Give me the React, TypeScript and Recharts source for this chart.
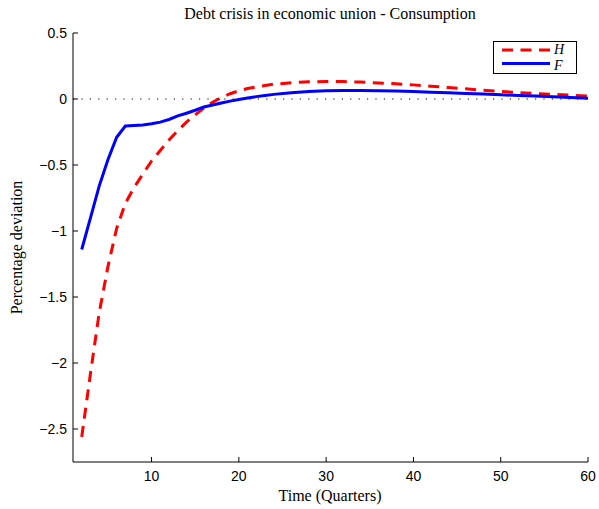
import { LineChart, Line, XAxis, YAxis, ReferenceLine, Legend } from "recharts"

// quarters after the shock (every quarter early on, every second one later)
const quarters = [
  2, 3, 4, 5, 6, 7, 8, 9, 10, 11, 12, 13, 14, 15, 16, 17, 18, 19, 20, 21, 22, 23, 24,
  26, 28, 30, 32, 34, 36, 38, 40, 42, 44, 46, 48, 50, 52, 54, 56, 58, 60,
]

// home (H) consumption, % deviation
const homeConsumption = [
  -2.56, -2.08, -1.62, -1.27, -0.98, -0.79, -0.67, -0.57, -0.47, -0.39, -0.31, -0.24, -0.175,
  -0.12, -0.068, -0.025, 0.012, 0.04, 0.062, 0.079, 0.092, 0.103, 0.112,
  0.123, 0.13, 0.133, 0.132, 0.128, 0.122, 0.115, 0.107, 0.097, 0.087, 0.077, 0.066, 0.057,
  0.049, 0.042, 0.035, 0.029, 0.023,
]

// foreign (F) consumption, % deviation
const foreignConsumption = [
  -1.14, -0.9, -0.66, -0.46, -0.29, -0.205, -0.2, -0.197, -0.188, -0.175, -0.155, -0.128, -0.108,
  -0.085, -0.06, -0.045, -0.03, -0.016, -0.004, 0.008, 0.018, 0.027, 0.035,
  0.047, 0.057, 0.062, 0.064, 0.064, 0.063, 0.06, 0.056, 0.052, 0.047, 0.042, 0.037, 0.032,
  0.027, 0.022, 0.017, 0.012, 0.006,
]

const xTicks = [10, 20, 30, 40, 50, 60]
const yTicks = [0.5, 0, -0.5, -1, -1.5, -2, -2.5]

const rows = quarters.map((t, i) => ({ t, H: homeConsumption[i], F: foreignConsumption[i] }))

const serif = "'Liberation Serif', 'Times New Roman', serif"
const sans = "'Liberation Sans', Arial, sans-serif"
const tickStyle = { fontFamily: sans, fontSize: 14, fill: "#000" }
const fmt = (v: number) => String(v).replace("-", "\u2212")

function LegendBox() {
  return (
    <svg width={85} height={34} style={{ display: "block" }}>
      <rect x={0.5} y={0.5} width={83} height={32} fill="#fff" stroke="#000" strokeWidth={1} />
      <line x1={9} x2={57} y1={9} y2={9} stroke="#ff0000" strokeWidth={3} strokeDasharray="11 7.5" />
      <line x1={9} x2={57} y1={22.5} y2={22.5} stroke="#0000ff" strokeWidth={3} />
      <text x={61} y={13} fontFamily={serif} fontStyle="italic" fontSize={14}>H</text>
      <text x={61} y={28.5} fontFamily={serif} fontStyle="italic" fontSize={14}>F</text>
    </svg>
  )
}

export default function App() {
  return (
    <div style={{ position: "absolute", left: 0, top: 0, width: 599, height: 509, background: "#fff" }}>
      <LineChart
        width={599}
        height={509}
        data={rows}
        margin={{ top: 33, right: 11, bottom: 17, left: 33 }}
      >
        <XAxis
          dataKey="t"
          type="number"
          domain={[1, 60]}
          ticks={xTicks}
          allowDataOverflow
          height={30}
          stroke="#000"
          tickSize={-5}
          tickMargin={14}
          tick={tickStyle}
        />
        <XAxis
          xAxisId="top"
          dataKey="t"
          type="number"
          orientation="top"
          domain={[1, 60]}
          ticks={xTicks}
          allowDataOverflow
          height={0}
          stroke="#000"
          tickSize={-5}
          tick={false}
        />
        <YAxis
          type="number"
          domain={[-2.75, 0.5]}
          ticks={yTicks}
          allowDataOverflow
          width={40}
          stroke="#000"
          tickSize={-5}
          tickMargin={11}
          tick={tickStyle}
          tickFormatter={fmt}
        />
        <YAxis
          yAxisId="right"
          type="number"
          orientation="right"
          domain={[-2.75, 0.5]}
          ticks={yTicks}
          allowDataOverflow
          width={0}
          stroke="#000"
          tickSize={-5}
          tick={false}
        />
        <ReferenceLine y={0} stroke="#000" strokeWidth={1} strokeDasharray="1.2 7.2" />
        <Line
          dataKey="H"
          type="linear"
          stroke="#ff0000"
          strokeWidth={3}
          strokeDasharray="11 7.5"
          dot={false}
          isAnimationActive={false}
        />
        <Line
          dataKey="F"
          type="linear"
          stroke="#0000ff"
          strokeWidth={3}
          dot={false}
          isAnimationActive={false}
        />
        {/* middle/center alignment keeps the legend from reserving plot space */}
        <Legend
          layout="horizontal"
          verticalAlign="middle"
          align="center"
          content={() => <LegendBox />}
          wrapperStyle={{ position: "absolute", left: 493, top: 41, width: 85, height: 34 }}
        />
      </LineChart>
      <svg
        width={599}
        height={509}
        style={{ position: "absolute", left: 0, top: 0, pointerEvents: "none" }}
      >
        <text x={330} y={19} textAnchor="middle" fontFamily={serif} fontSize={16}>
          Debt crisis in economic union - Consumption
        </text>
        <text x={330} y={501} textAnchor="middle" fontFamily={serif} fontSize={16}>
          Time (Quarters)
        </text>
        <text
          transform="translate(22,247.5) rotate(-90)"
          textAnchor="middle"
          fontFamily={serif}
          fontSize={16}
        >
          Percentage deviation
        </text>
      </svg>
    </div>
  )
}
